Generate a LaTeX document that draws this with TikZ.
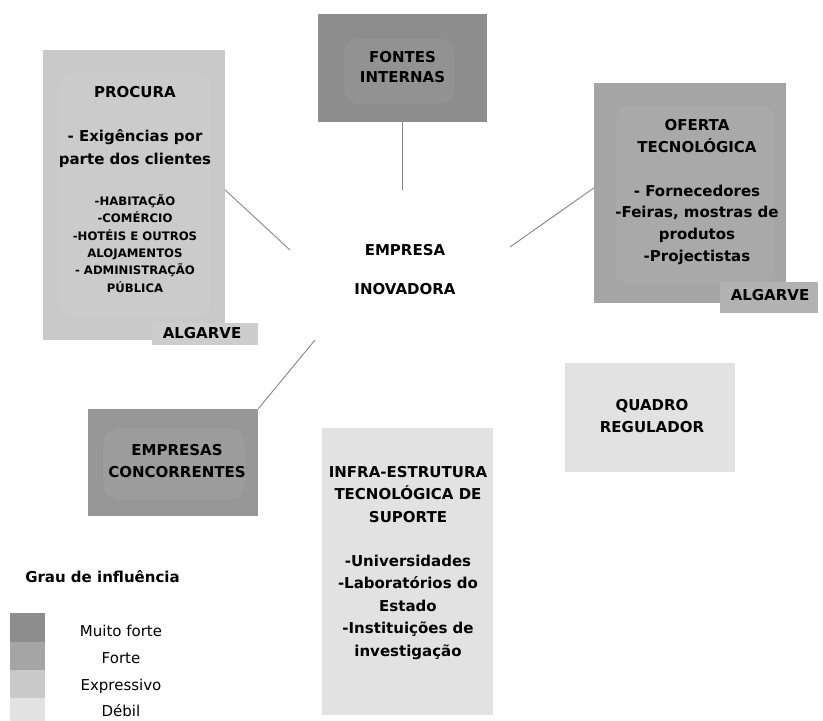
\documentclass[tikz,border=0pt]{standalone}
\usepackage{fontspec}
\setmainfont{DejaVu Sans}
\begin{document}
\begin{tikzpicture}[x=1pt,y=-1pt,
  box/.style={rectangle,draw=none,inner sep=0pt},
  bevel/.style={rounded corners=14pt,fill=white,fill opacity=0.05,draw=black,draw opacity=0.04},
  tab/.style={rectangle,draw=none,inner sep=0pt,minimum height=22pt},
  big/.style={align=center,inner sep=0pt,font=\fontsize{15}{22}\selectfont\bfseries},
  small/.style={align=center,inner sep=0pt,font=\fontsize{11.7}{17.4}\selectfont\bfseries},
  leg/.style={inner sep=0pt,font=\fontsize{15}{17}\selectfont},
  conn/.style={draw=black!48,line width=0.9pt}]
\definecolor{cmf}{HTML}{8D8D8D}
\definecolor{cmf2}{HTML}{979797}
\definecolor{cf}{HTML}{A5A5A5}
\definecolor{cex}{HTML}{C9C9C9}
\definecolor{cd}{HTML}{E2E2E2}
\useasboundingbox (0,0) rectangle (823,721);
\fill[white] (0,0) rectangle (823,721);

% FONTES INTERNAS
\node[box,fill=cmf,minimum width=169pt,minimum height=108pt] (font) at (402.5,68) {};
\draw[bevel] (344,38) rectangle (455,104);
\node[big,font=\fontsize{15}{20}\selectfont\bfseries] (fontT) at (402.5,67) {FONTES\\INTERNAS};

% PROCURA
\node[box,fill=cex,minimum width=182pt,minimum height=290pt] (proc) at (134,195) {};
\draw[bevel] (58,72) rectangle (212,318);
\node[tab,fill=cex!92!white,minimum width=106pt] (procTab) at (205,334) {};
\node[big] (procA) at (202,333) {ALGARVE};
\node[big] (procT1) at (135,92) {PROCURA};
\node[big,font=\fontsize{15}{23}\selectfont\bfseries] (procT2) at (135,148.5) {- Exigências por\\parte dos clientes};
\node[small] (procT3) at (135,243.5) {-HABITAÇÃO\\-COMÉRCIO\\-HOTÉIS E OUTROS\\ALOJAMENTOS\\- ADMINISTRAÇÃO\\PÚBLICA};

% OFERTA TECNOLOGICA
\node[box,fill=cf,minimum width=192pt,minimum height=220pt] (ofe) at (690,193) {};
\draw[bevel] (615,105) rectangle (775,285);
\node[tab,fill=cf!85!white,minimum width=98pt,minimum height=31pt] (ofeTab) at (769,297.5) {};
\node[big] (ofeA) at (770,295) {ALGARVE};
\node[big] (ofeT1) at (697,136) {OFERTA\\TECNOLÓGICA};
\node[big,font=\fontsize{15}{21.7}\selectfont\bfseries] (ofeT2) at (697,224.5) {- Fornecedores\\-Feiras, mostras de\\produtos\\-Projectistas};

% EMPRESA INOVADORA
\node[big,font=\fontsize{15}{39}\selectfont\bfseries] (emp) at (405,269.5) {EMPRESA\\INOVADORA};
\coordinate (eP) at (290,250);
\coordinate (eF) at (402.5,190);
\coordinate (eO) at (510,247);
\coordinate (eC) at (315,340);

% EMPRESAS CONCORRENTES
\node[box,fill=cmf2,minimum width=170pt,minimum height=107pt] (conc) at (173,462.5) {};
\draw[bevel] (103,428) rectangle (245,500);
\node[big] (concT) at (177,461) {EMPRESAS\\CONCORRENTES};

% INFRA-ESTRUTURA
\node[box,fill=cd,minimum width=171pt,minimum height=287pt] (infra) at (407.5,571.5) {};
\node[big,font=\fontsize{15}{22.5}\selectfont\bfseries] (infraT1) at (408,494.5) {INFRA-ESTRUTURA\\TECNOLÓGICA DE\\SUPORTE};
\node[big,font=\fontsize{15}{22.5}\selectfont\bfseries] (infraT2) at (408,607) {-Universidades\\-Laboratórios do\\Estado\\-Instituições de\\investigação};

% QUADRO REGULADOR
\node[box,fill=cd,minimum width=170pt,minimum height=109pt] (quad) at (650,417.5) {};
\node[big] (quadT) at (652,416) {QUADRO\\REGULADOR};

% connectors
\draw[conn] (font.south) -- (eF);
\draw[conn] ([yshift=5pt]proc.east) -- (eP);
\draw[conn] ([yshift=5pt]ofe.west) -- (eO);
\draw[conn] (conc.north east) -- (eC);

% legend
\node[big] (legT) at (102.5,577) {Grau de influência};
\node[box,fill=cmf,minimum width=35pt,minimum height=29pt] (lg1) at (27.5,627.5) {};
\node[box,fill=cf,minimum width=35pt,minimum height=28pt] (lg2) at (27.5,656) {};
\node[box,fill=cex,minimum width=35pt,minimum height=28pt] (lg3) at (27.5,684) {};
\node[box,fill=cd,minimum width=35pt,minimum height=23pt] (lg4) at (27.5,709.5) {};
\node[leg] (lgT1) at (121,631) {Muito forte};
\node[leg] (lgT2) at (121,658) {Forte};
\node[leg] (lgT3) at (121,686) {Expressivo};
\node[leg] (lgT4) at (121,711) {Débil};
\end{tikzpicture}
\end{document}
